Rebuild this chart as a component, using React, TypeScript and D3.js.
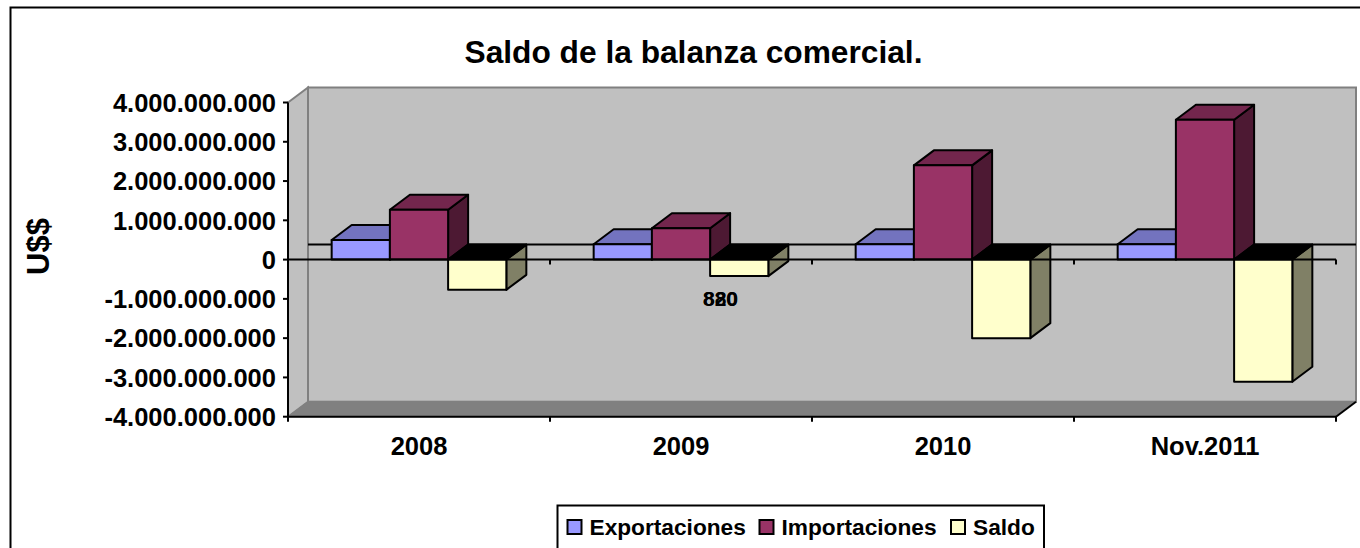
import React, { useEffect, useRef } from 'react';
import * as d3 from 'd3';

const categories = ['2008', '2009', '2010', 'Nov.2011'];
const seriesNames = ['Exportaciones', 'Importaciones', 'Saldo'];
const exportaciones = [500000000, 390000000, 390000000, 390000000];
const importaciones = [1270000000, 800000000, 2400000000, 3560000000];
const saldo = [-770000000, -420000000, -2000000000, -3110000000];
const yTicks = [4, 3, 2, 1, 0, -1, -2, -3, -4].map((d) => d * 1000000000);
const strayLabels = ['880', '820'];

const colors = {
  Exportaciones: { front: '#9999ff', top: '#7373bf', side: '#4d4d80' },
  Importaciones: { front: '#993366', top: '#73264d', side: '#4d1933' },
  Saldo: { front: '#ffffcc', top: '#000000', side: '#808066' },
};

const width = 1360;
const height = 548;
const font = '"Liberation Sans", Arial, sans-serif';
const depthX = 20;
const depthY = -15;

function App() {
  const ref = useRef<SVGSVGElement>(null);

  useEffect(() => {
    const svg = d3.select(ref.current);
    svg.selectAll('*').remove();

    const locale = d3.formatLocale({ decimal: ',', thousands: '.', grouping: [3], currency: ['', ''], minus: '-' });
    const fmt = locale.format(',d');

    const x0 = d3.scaleBand().domain(categories).range([288, 1336]).paddingInner(1 / 3).paddingOuter(1 / 6);
    const x1 = d3.scaleBand().domain(seriesNames).range([0, x0.bandwidth()]);
    const y = d3.scaleLinear().domain([-4000000000, 4000000000]).range([416.7, 102.5]);
    const values = [exportaciones, importaciones, saldo];

    const [left, right] = x0.range();
    const top = y(4000000000);
    const bottom = y(-4000000000);
    const zero = y(0);
    const line = d3.line();
    const poly = (pts) => line(pts) + 'Z';

    // Frame, open at the bottom as in the picture
    svg.append('path')
      .attr('d', `M10.5,548V7.5H1360`)
      .attr('fill', 'none')
      .attr('stroke', '#000')
      .attr('stroke-width', 2);

    // Walls and floor
    svg.append('path')
      .attr('d', poly([[left, top], [left + depthX, top + depthY], [left + depthX, bottom + depthY], [left, bottom]]))
      .attr('fill', '#c0c0c0')
      .attr('stroke', '#808080')
      .attr('stroke-width', 2);
    svg.append('rect')
      .attr('x', left + depthX)
      .attr('y', top + depthY)
      .attr('width', right - left)
      .attr('height', bottom - top)
      .attr('fill', '#c0c0c0')
      .attr('stroke', '#808080')
      .attr('stroke-width', 2);
    svg.append('path')
      .attr('d', poly([[left, bottom], [left + depthX, bottom + depthY], [right + depthX, bottom + depthY], [right, bottom]]))
      .attr('fill', '#808080')
      .attr('stroke', '#808080');

    // Zero line on the back wall
    svg.append('line')
      .attr('x1', left + depthX)
      .attr('x2', right + depthX)
      .attr('y1', zero + depthY)
      .attr('y2', zero + depthY)
      .attr('stroke', '#000')
      .attr('stroke-width', 2);

    // Bars
    categories.forEach((cat, i) => {
      seriesNames.forEach((name, s) => {
        const v = values[s][i];
        const c = colors[name];
        const xa = x0(cat) + x1(name);
        const xb = xa + x1.bandwidth();
        const yTop = y(Math.max(v, 0));
        const yBot = y(Math.min(v, 0));
        const g = svg.append('g').attr('stroke', '#000').attr('stroke-width', 2).attr('stroke-linejoin', 'round');
        g.append('path')
          .attr('d', poly([[xb, yTop], [xb + depthX, yTop + depthY], [xb + depthX, yBot + depthY], [xb, yBot]]))
          .attr('fill', c.side);
        g.append('path')
          .attr('d', poly([[xa, yTop], [xa + depthX, yTop + depthY], [xb + depthX, yTop + depthY], [xb, yTop]]))
          .attr('fill', c.top);
        g.append('rect')
          .attr('x', xa)
          .attr('y', yTop)
          .attr('width', xb - xa)
          .attr('height', yBot - yTop)
          .attr('fill', c.front);
      });
    });

    // Axes
    const axisLine = svg.append('g').attr('stroke', '#000').attr('stroke-width', 2);
    axisLine.append('line').attr('x1', left).attr('x2', left).attr('y1', top).attr('y2', bottom);
    axisLine.append('line').attr('x1', left).attr('x2', right).attr('y1', zero).attr('y2', zero);
    axisLine.append('line').attr('x1', left).attr('x2', right).attr('y1', bottom).attr('y2', bottom);
    // corner of the floor runs past the last tick
    axisLine.append('line').attr('x1', right).attr('x2', right + depthX).attr('y1', bottom).attr('y2', bottom + depthY);

    yTicks.forEach((t) => {
      axisLine.append('line').attr('x1', left - 5).attr('x2', left).attr('y1', y(t)).attr('y2', y(t));
      svg.append('text')
        .attr('x', 276)
        .attr('y', y(t) + 9.2)
        .attr('text-anchor', 'end')
        .attr('font-family', font)
        .attr('font-weight', 'bold')
        .attr('font-size', 25.5)
        .text(fmt(t));
    });

    const step = x0.step();
    d3.range(categories.length + 1).forEach((k) => {
      const xt = left + k * step;
      axisLine.append('line').attr('x1', xt).attr('x2', xt).attr('y1', zero).attr('y2', zero + 5);
      axisLine.append('line').attr('x1', xt).attr('x2', xt).attr('y1', bottom).attr('y2', bottom + 5);
    });

    categories.forEach((cat) => {
      svg.append('text')
        .attr('x', x0(cat) + x0.bandwidth() / 2)
        .attr('y', 455)
        .attr('text-anchor', 'middle')
        .attr('font-family', font)
        .attr('font-weight', 'bold')
        .attr('font-size', 25.5)
        .text(cat);
    });

    // Title and y label
    svg.append('text')
      .attr('x', 693.5)
      .attr('y', 63)
      .attr('text-anchor', 'middle')
      .attr('font-family', font)
      .attr('font-weight', 'bold')
      .attr('font-size', 31.7)
      .text('Saldo de la balanza comercial.');
    svg.append('text')
      .attr('transform', 'translate(49,246.5) rotate(-90)')
      .attr('text-anchor', 'middle')
      .attr('font-family', font)
      .attr('font-weight', 'bold')
      .attr('font-size', 31)
      .text('U$$');

    // Stray overprinted label under the 2009 group
    strayLabels.forEach((t) => {
      svg.append('text')
        .attr('x', 720.5)
        .attr('y', 306)
        .attr('text-anchor', 'middle')
        .attr('font-family', font)
        .attr('font-weight', 'bold')
        .attr('font-size', 21)
        .text(t);
    });

    // Legend, cut by the bottom of the page
    svg.append('path')
      .attr('d', 'M557.5,548V505.5H1044V548')
      .attr('fill', '#fff')
      .attr('stroke', '#000')
      .attr('stroke-width', 2);
    const legendX = d3.scaleOrdinal().domain(seriesNames).range([567.5, 759.5, 951]);
    seriesNames.forEach((name) => {
      svg.append('rect')
        .attr('x', legendX(name))
        .attr('y', 520)
        .attr('width', 14)
        .attr('height', 14)
        .attr('fill', colors[name].front)
        .attr('stroke', '#000')
        .attr('stroke-width', 2);
      svg.append('text')
        .attr('x', legendX(name) + 22)
        .attr('y', 535)
        .attr('font-family', font)
        .attr('font-weight', 'bold')
        .attr('font-size', 22.7)
        .text(name);
    });
  }, []);

  return (
    <svg
      ref={ref}
      width={width}
      height={height}
      style={{ position: 'absolute', left: 0, top: 0, background: '#fff' }}
    />
  );
}

export default App;
